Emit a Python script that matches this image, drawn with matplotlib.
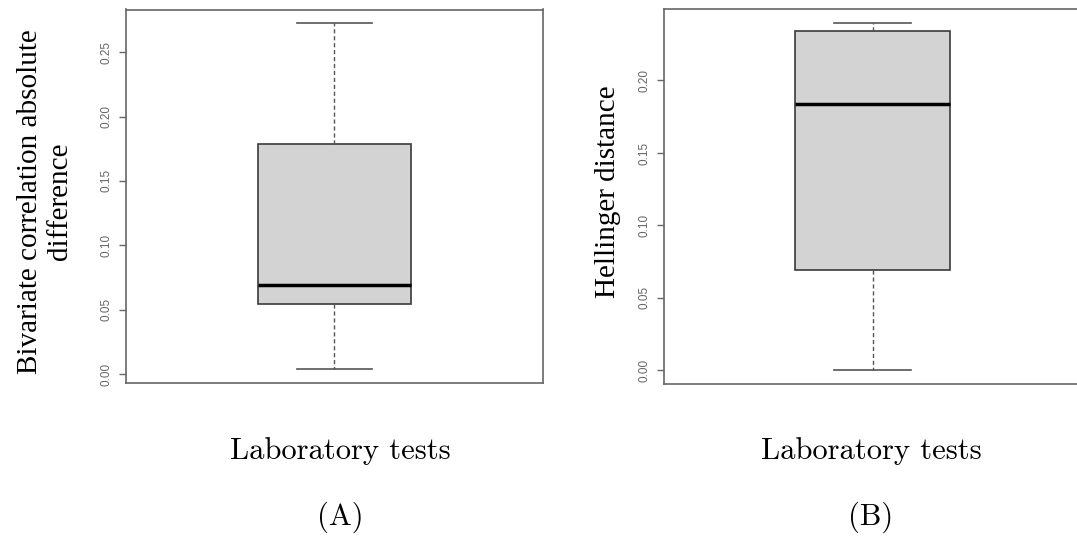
import matplotlib
matplotlib.use("Agg")
import matplotlib.pyplot as plt

# five-number summaries for the two boxplots
panel_names = ["(A)", "(B)"]
group_label = "Laboratory tests"
ylabels = ["Bivariate correlation absolute\ndifference", "Hellinger distance"]
whislo = [0.0042, 0.0]
q1 = [0.0547, 0.0696]
med = [0.0695, 0.1837]
q3 = [0.179, 0.234]
whishi = [0.2724, 0.2395]
yticks = [[0.00, 0.05, 0.10, 0.15, 0.20, 0.25],
          [0.00, 0.05, 0.10, 0.15, 0.20]]

serif = ["Liberation Serif", "Tinos", "Times New Roman", "Nimbus Roman", "DejaVu Serif"]
sans = ["Liberation Sans", "Arimo", "Arial", "DejaVu Sans"]

fig = plt.figure(figsize=(10.77, 5.37), dpi=100)
rects = [[126 / 1077, 154.5 / 537, 417 / 1077, 373 / 537],
         [664 / 1077, 152.7 / 537, 417 / 1077, 375 / 537]]
label_xy = [(-0.128, 0.485), (-0.102, 0.513)]
box_w = [0.368, 0.372]
cap_w = [0.18, 0.186]
txt_x = [340 / 1077, 871 / 1077]

for i in range(2):
    ax = fig.add_axes(rects[i])
    stats = [dict(med=med[i], q1=q1[i], q3=q3[i], whislo=whislo[i], whishi=whishi[i], fliers=[])]
    ax.bxp(stats, positions=[1], widths=box_w[i], capwidths=cap_w[i], patch_artist=True,
           boxprops=dict(facecolor="#d3d3d3", edgecolor="#3a3a3a", linewidth=1.2),
           medianprops=dict(color="black", linewidth=2.5, solid_capstyle="butt"),
           whiskerprops=dict(color="#555555", linewidth=1.0, linestyle=(0, (3, 2))),
           capprops=dict(color="#555555", linewidth=1.2))
    lo, hi = whislo[i], whishi[i]
    span = hi - lo
    ax.set_ylim(lo - 0.04 * span, hi + 0.04 * span)
    ax.set_xlim(0.5, 1.5)
    ax.set_xticks([])
    ax.set_yticks(yticks[i])
    ax.set_yticklabels(["%.2f" % t for t in yticks[i]], rotation=90, va="center",
                       fontsize=8.5, color="#666666", family=sans)
    ax.tick_params(axis="y", length=5, width=1, color="#666666", pad=5)
    for s in ax.spines.values():
        s.set_color("#666666")
        s.set_linewidth(1.2)
    ax.set_ylabel(ylabels[i], family=serif, fontsize=21, linespacing=1.2)
    ax.yaxis.set_label_coords(*label_xy[i])
    fig.text(txt_x[i], 1 - 451 / 537, group_label, family="cmr10", fontsize=22,
             ha="center", va="center")
    fig.text(txt_x[i], 1 - 517 / 537, panel_names[i], family="cmr10", fontsize=22,
             ha="center", va="center")

fig.savefig("out.png", dpi=100)
